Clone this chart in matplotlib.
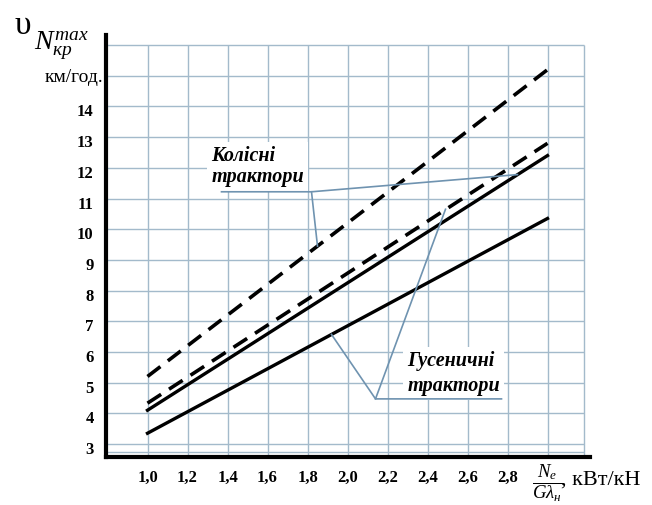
import matplotlib
matplotlib.use("Agg")
import matplotlib.pyplot as plt
import matplotlib.transforms as mtransforms

plt.rcParams["font.family"] = ["Liberation Serif", "DejaVu Serif"]
plt.rcParams["mathtext.fontset"] = "custom"
plt.rcParams["mathtext.rm"] = "Liberation Serif"
plt.rcParams["mathtext.it"] = "Liberation Serif:italic"
plt.rcParams["mathtext.bf"] = "Liberation Serif:bold"

# data
x_range = [1.0, 3.0]
wheeled_upper = [5.2, 15.2]    # dashed
wheeled_lower = [4.33, 12.8]   # dashed
tracked_upper = [4.1, 12.4]    # solid
tracked_lower = [3.35, 10.35]  # solid

x_ticks = [1.0, 1.2, 1.4, 1.6, 1.8, 2.0, 2.2, 2.4, 2.6, 2.8]
x_labels = ["1,0", "1,2", "1,4", "1,6", "1,8", "2,0", "2,2", "2,4", "2,6", "2,8"]
x_grid = x_ticks + [3.0, 3.18]
y_ticks = [3, 4, 5, 6, 7, 8, 9, 10, 11, 12, 13, 14]
y_grid = [2.75] + y_ticks + [15, 16]

wheeled_text = "Колісні\nтрактори"
tracked_text = "Гусеничні\nтрактори"
wheeled_leader_x = [1.37, 1.82, 2.85]
wheeled_leader_y = [11.22, 11.22, 11.78]
wheeled_branch_x = [1.82, 1.85]
wheeled_branch_y = [11.22, 9.45]
tracked_leader_x = [2.77, 2.14, 1.92]
tracked_leader_y = [4.47, 4.47, 6.57]
tracked_branch_x = [2.14, 2.49]
tracked_branch_y = [4.47, 10.65]

W, H = 652, 505
fig = plt.figure(figsize=(W / 100, H / 100), dpi=100)
ax = fig.add_axes([106 / W, 48 / H, 484 / W, 422 / H])
ax.set_xlim(0.7925, 3.2125)
ax.set_ylim(2.576, 16.33)

grid_color = "#a3bacb"
ax.vlines(x_grid, 2.576, 16, color=grid_color, lw=1.0, zorder=1)
ax.hlines(y_grid, 0.7925, 3.18, color=grid_color, lw=1.0, zorder=1)

ax.plot(x_range, wheeled_upper, color="black", lw=2.6, dashes=(4.5, 2.6), zorder=3)
ax.plot(x_range, wheeled_lower, color="black", lw=2.6, dashes=(4.5, 2.6), zorder=3)
ax.plot(x_range, tracked_upper, color="black", lw=2.4, zorder=3)
ax.plot(x_range, tracked_lower, color="black", lw=2.4, zorder=3)

lead_color = "#6f93b0"
ax.plot(wheeled_leader_x, wheeled_leader_y, color=lead_color, lw=1.2, zorder=4)
ax.plot(wheeled_branch_x, wheeled_branch_y, color=lead_color, lw=1.2, zorder=4)
ax.plot(tracked_leader_x, tracked_leader_y, color=lead_color, lw=1.2, zorder=4)
ax.plot(tracked_branch_x, tracked_branch_y, color=lead_color, lw=1.2, zorder=4)

box = dict(facecolor="white", edgecolor="none", pad=3)
ax.text(1.32, 12.05, wheeled_text, fontsize=14.5, fontweight="bold", fontstyle="italic",
        ha="left", va="center", linespacing=1.05, bbox=box, zorder=2)
ax.text(2.30, 5.3, tracked_text, fontsize=14.5, fontweight="bold", fontstyle="italic",
        ha="left", va="center", linespacing=1.3, bbox=box, zorder=2)

for side in ["top", "right"]:
    ax.spines[side].set_visible(False)
for side in ["left", "bottom"]:
    ax.spines[side].set_linewidth(3.0)
    ax.spines[side].set_color("black")

ax.set_xticks(x_ticks)
ax.set_xticklabels(x_labels, fontsize=12, fontweight="bold")
ax.set_yticks(y_ticks)
ax.set_yticklabels([str(v) for v in y_ticks], fontsize=12, fontweight="bold")
ax.tick_params(axis="both", length=0)
ax.tick_params(axis="x", pad=9)
ax.tick_params(axis="y", pad=9)
shift = mtransforms.ScaledTranslation(0, -4 / 100, fig.dpi_scale_trans)
for lbl in ax.get_yticklabels():
    lbl.set_transform(lbl.get_transform() + shift)


def px(x, y):
    return x / W, 1 - y / H


fig.text(*px(15, 34), "υ", fontsize=24, ha="left", va="baseline")
fig.text(*px(34, 49), r"$N_{кр}^{max}$", fontsize=20, ha="left", va="baseline")
fig.text(*px(103, 82), "км/год.", fontsize=14, ha="right", va="baseline")
fig.text(*px(532, 489), r"$\dfrac{N_e}{G\lambda_н}$", fontsize=13.5,
         ha="left", va="baseline")
fig.text(*px(561, 485), ", кВт/кН", fontsize=16, ha="left", va="baseline")

fig.savefig("out.png", dpi=100)
